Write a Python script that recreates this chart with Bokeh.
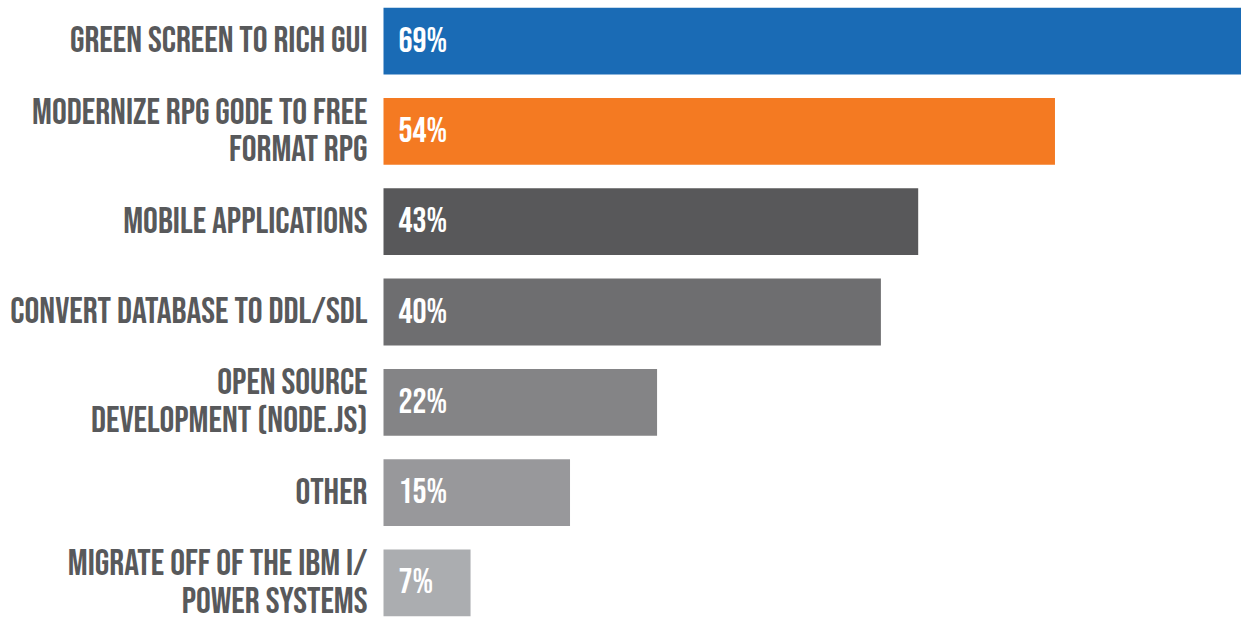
from bokeh.plotting import figure
from bokeh.models import ColumnDataSource, FactorRange, Range1d
from bokeh.core.properties import value
from bokeh.embed import file_html
from bokeh.resources import INLINE

categories = [
    "GREEN SCREEN TO RICH GUI",
    "MODERNIZE RPG GODE TO FREE\nFORMAT RPG",
    "MOBILE APPLICATIONS",
    "CONVERT DATABASE TO DDL/SDL",
    "OPEN SOURCE\nDEVELOPMENT (NODE.JS)",
    "OTHER",
    "MIGRATE OFF OF THE IBM i/\nPOWER SYSTEMS",
]
values = [69, 54, 43, 40, 22, 15, 7]
pct_labels = ["69%", "54%", "43%", "40%", "22%", "15%", "7%"]
colors = ["#1a6bb5", "#f47a22", "#58585a", "#6e6e70", "#848486", "#98989b", "#abadb0"]

W, H = 1241, 623
left_px = 383
vmax = max(values)
x_start = -vmax * left_px / (W - left_px)

keys = [f"c{i}" for i in range(len(categories))]
src = ColumnDataSource(dict(key=keys, cat=categories, val=values,
                            pct=pct_labels, color=colors,
                            zero=[0] * len(values)))

p = figure(width=W, height=H, output_backend="svg", toolbar_location=None,
           x_range=Range1d(x_start, vmax),
           y_range=FactorRange(factors=list(reversed(keys)),
                               range_padding=-0.05, range_padding_units="absolute"),
           min_border=0, min_border_left=0, min_border_right=0,
           min_border_top=0, min_border_bottom=0)
p.axis.visible = False
p.grid.visible = False
p.outline_line_color = None
p.background_fill_color = "white"
p.border_fill_color = "white"

p.hbar(y="key", left=0, right="val", height=0.74, color="color",
       line_color=None, source=src)

p.text(x="zero", y="key", text="cat", source=src, x_offset=-16,
       text_align="right", text_baseline="middle",
       text_font=value("Bebas Neue"),
       text_font_size="37px", text_color="#58595b", text_line_height=0.86)

p.text(x="zero", y="key", text="pct", source=src, x_offset=15,
       text_align="left", text_baseline="middle",
       text_font=value("Bebas Neue"),
       text_font_size="35px", text_color="white")

open("out.html", "w").write(file_html(p, INLINE))
